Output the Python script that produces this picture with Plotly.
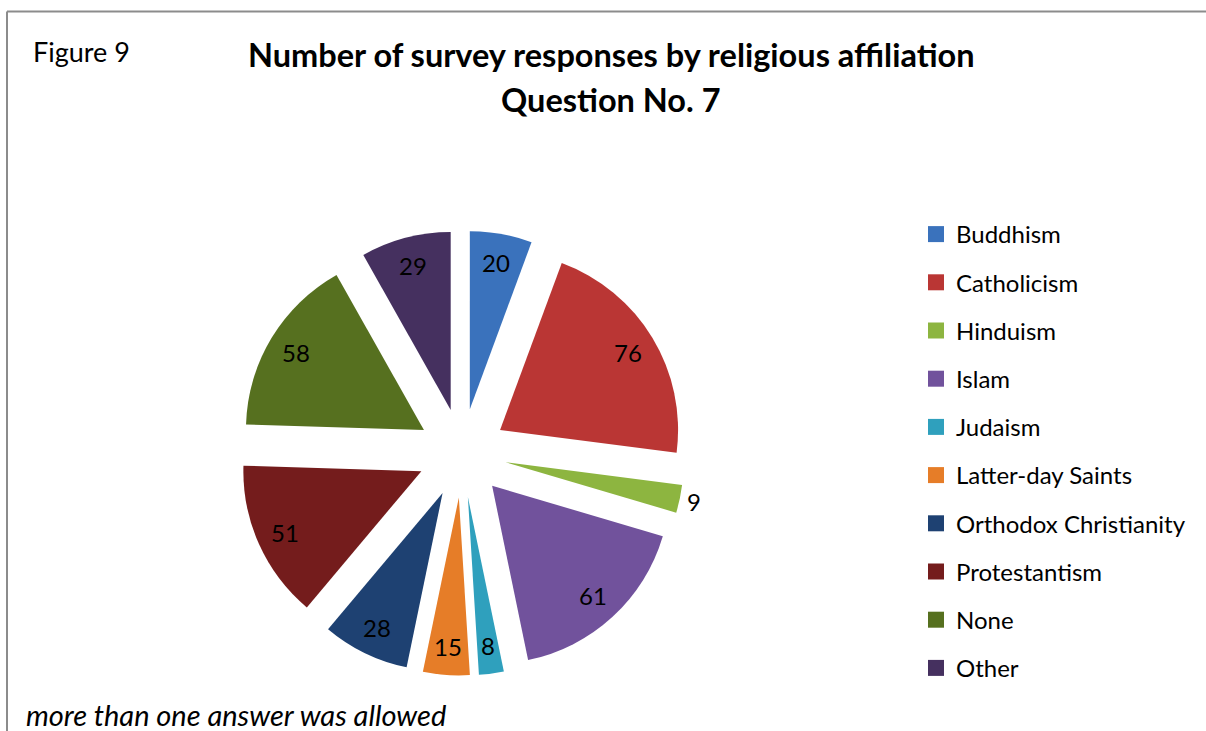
import math
import plotly.graph_objects as go

labels = ["Buddhism", "Catholicism", "Hinduism", "Islam", "Judaism",
          "Latter-day Saints", "Orthodox Christianity", "Protestantism", "None", "Other"]
values = [20, 76, 9, 61, 8, 15, 28, 51, 58, 29]
colors = ["#3A72BC", "#BA3634", "#8DB540", "#71529C", "#2FA0BD",
          "#E67D28", "#1E4172", "#741C1C", "#56701F", "#45305F"]
label_outside = [False, False, True, False, False, False, False, False, False, False]

FONT = "Lato"
W, H = 1206, 731

# pie geometry (pixels)
cx, cy, r = 462, 453, 178
pull = 0.25
r_total = r * (1 + pull)

fig = go.Figure()
fig.add_trace(go.Pie(
    labels=labels, values=values, sort=False, direction="clockwise",
    rotation=0, pull=[pull] * len(values),
    marker=dict(colors=colors, line=dict(width=0)),
    textinfo="none",
    showlegend=False, hoverinfo="label+value",
    domain=dict(x=[(cx - r_total) / W, (cx + r_total) / W],
                y=[1 - (cy + r_total) / H, 1 - (cy - r_total) / H]),
))

for lab, col in zip(labels, colors):
    fig.add_trace(go.Scatter(
        x=[None], y=[None], mode="markers", name=lab,
        marker=dict(symbol="square", size=16, color=col),
        legendgroup=lab, showlegend=True, hoverinfo="skip",
    ))

# value labels placed along each slice's bisector
annotations = []
total = sum(values)
cum = 0
for v, out in zip(values, label_outside):
    theta = (cum + v / 2) / total * 2 * math.pi
    cum += v
    d = r * pull + r * (1.08 if out else 0.84)
    px = cx + d * math.sin(theta)
    py = cy - d * math.cos(theta)
    annotations.append(dict(
        text=str(v), x=px / W, y=1 - py / H, xref="paper", yref="paper",
        xanchor="center", yanchor="middle", showarrow=False,
        font=dict(family=FONT, size=24, color="#000000")))

annotations += [
    dict(text="<b>Number of survey responses by religious affiliation</b>",
         x=611 / W, y=1 - 55 / H, xref="paper", yref="paper",
         xanchor="center", yanchor="middle", showarrow=False,
         font=dict(family=FONT, size=32.5, color="#000000")),
    dict(text="<b>Question No. 7</b>",
         x=611 / W, y=1 - 100 / H, xref="paper", yref="paper",
         xanchor="center", yanchor="middle", showarrow=False,
         font=dict(family=FONT, size=32.5, color="#000000")),
    dict(text="Figure 9", x=31 / W, y=1 - 51 / H, xref="paper", yref="paper",
         xanchor="left", yanchor="middle", showarrow=False,
         font=dict(family=FONT, size=27, color="#000000")),
    dict(text="<i>more than one answer was allowed</i>", x=24 / W, y=1 - 714 / H,
         xref="paper", yref="paper", xanchor="left", yanchor="middle", showarrow=False,
         font=dict(family=FONT, size=29, color="#000000")),
]

fig.update_layout(
    width=W, height=H,
    margin=dict(l=0, r=0, t=0, b=0, autoexpand=False),
    paper_bgcolor="white", plot_bgcolor="white",
    xaxis=dict(visible=False), yaxis=dict(visible=False),
    showlegend=True,
    legend=dict(x=916 / W, xanchor="left", y=1 - 212 / H, yanchor="top",
                font=dict(family=FONT, size=24, color="#000000"),
                tracegroupgap=14, bgcolor="rgba(0,0,0,0)"),
    annotations=annotations,
    shapes=[
        dict(type="line", xref="paper", yref="paper", x0=7 / W, x1=1.01, y0=1 - 11.5 / H, y1=1 - 11.5 / H,
             line=dict(color="#8C8C8C", width=2)),
        dict(type="line", xref="paper", yref="paper", x0=7 / W, x1=7 / W, y0=1 - 11.5 / H, y1=-0.01,
             line=dict(color="#8C8C8C", width=2)),
    ],
)

fig.write_html("out.html", config={"displayModeBar": False},
               post_script="document.body.style.margin='0px';")
